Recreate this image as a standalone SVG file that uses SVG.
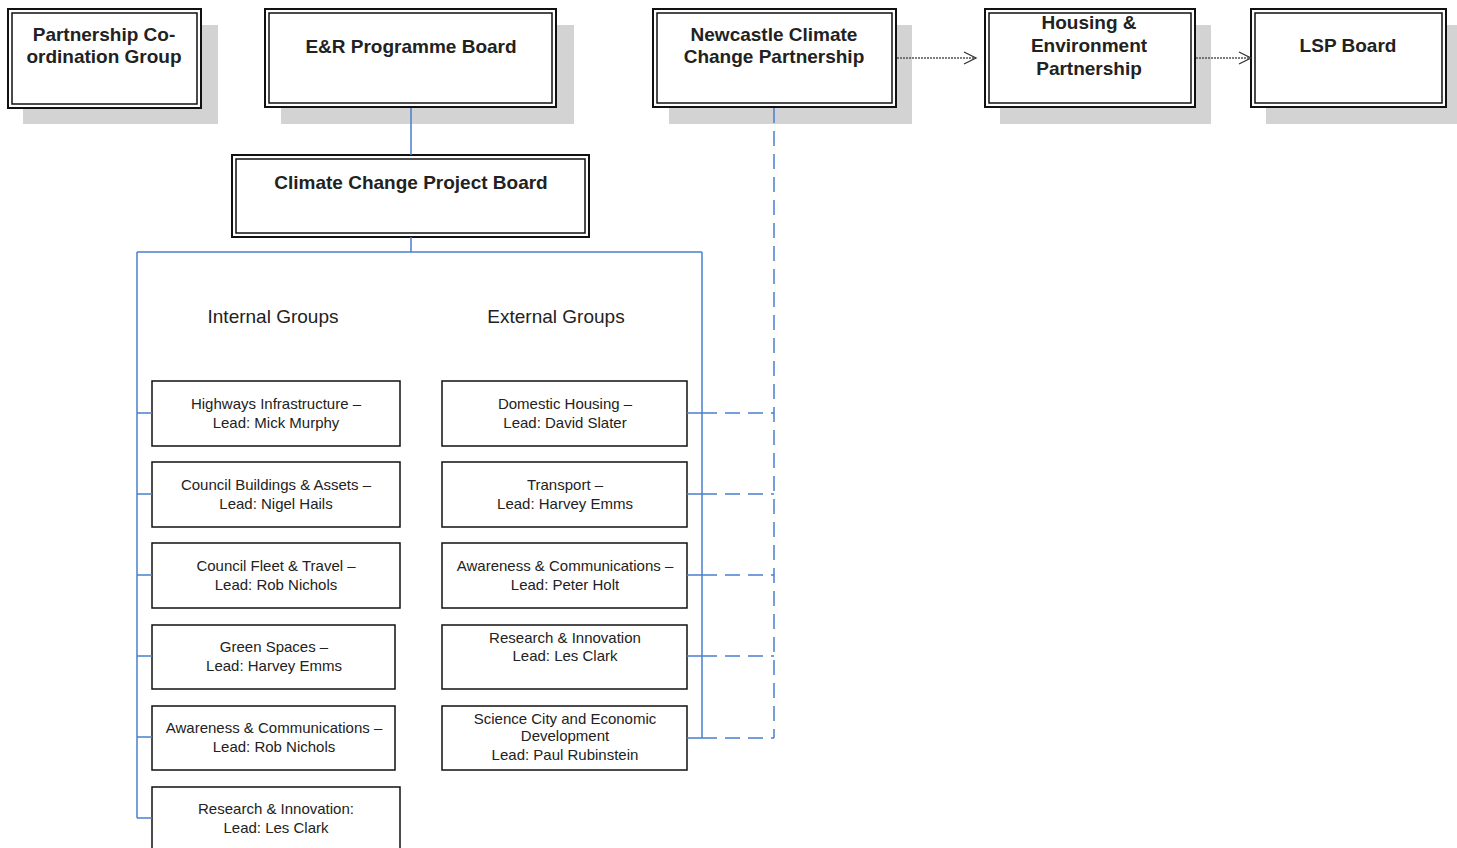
<svg xmlns="http://www.w3.org/2000/svg" width="1457" height="848" viewBox="0 0 1457 848">
<defs>
<marker id="arr" markerWidth="16" markerHeight="14" refX="14" refY="7" orient="auto" markerUnits="userSpaceOnUse">
<path d="M2,1 L14,7 L2,13" fill="none" stroke="#333" stroke-width="1.3"/>
</marker>
</defs>
<style>
.shadow{fill:#d3d3d3}
.outer{fill:#fff;stroke:#111;stroke-width:2}
.inner{fill:none;stroke:#111;stroke-width:1.5}
.box{fill:#fff;stroke:#111;stroke-width:1.5}
.title{font-family:"Liberation Sans",Arial,sans-serif;font-weight:bold;font-size:19px;fill:#222;text-anchor:middle}
.lbl{font-family:"Liberation Sans",Arial,sans-serif;font-size:15px;fill:#222;text-anchor:middle}
.hdr{font-family:"Liberation Sans",Arial,sans-serif;font-size:19px;fill:#222;text-anchor:middle}
.blue{fill:none;stroke:#4a7fd0;stroke-width:1.5}
.dash{fill:none;stroke:#4a7fd0;stroke-width:1.5;stroke-dasharray:15 8}
.arrow{fill:none;stroke:#555;stroke-width:1.5;stroke-dasharray:2 1;marker-end:url(#arr)}
</style>
<rect width="1457" height="848" fill="#fff"/>

<g id="pcg">
<rect class="shadow" x="23" y="25" width="195" height="99"/>
<rect class="outer" x="8" y="9" width="193" height="99"/>
<rect class="inner" x="12" y="13" width="185" height="91"/>
<text class="title" x="104" y="41">Partnership Co-</text>
<text class="title" x="104" y="63">ordination Group</text>
</g>

<g id="erpb">
<rect class="shadow" x="281" y="25" width="293" height="99"/>
<rect class="outer" x="265" y="9" width="291" height="98"/>
<rect class="inner" x="269" y="13" width="283" height="90"/>
<text class="title" x="411" y="53">E&amp;R Programme Board</text>
</g>

<g id="nccp">
<rect class="shadow" x="669" y="25" width="243" height="99"/>
<rect class="outer" x="653" y="9" width="243" height="98"/>
<rect class="inner" x="657" y="13" width="235" height="90"/>
<text class="title" x="774" y="41">Newcastle Climate</text>
<text class="title" x="774" y="63">Change Partnership</text>
</g>

<g id="hep">
<rect class="shadow" x="1000" y="25" width="211" height="99"/>
<rect class="outer" x="985" y="9" width="210" height="98"/>
<rect class="inner" x="989" y="13" width="202" height="90"/>
<text class="title" x="1089" y="29">Housing &amp;</text>
<text class="title" x="1089" y="52">Environment</text>
<text class="title" x="1089" y="75">Partnership</text>
</g>

<g id="lsp">
<rect class="shadow" x="1266" y="25" width="191" height="99"/>
<rect class="outer" x="1251" y="9" width="195" height="98"/>
<rect class="inner" x="1255" y="13" width="187" height="90"/>
<text class="title" x="1348" y="52">LSP Board</text>
</g>

<g id="ccpb">
<rect class="outer" x="232" y="155" width="357" height="82"/>
<rect class="inner" x="236" y="159" width="349" height="74"/>
<text class="title" x="411" y="189">Climate Change Project Board</text>
</g>

<g id="hdr-internal"><text class="hdr" x="273" y="323">Internal Groups</text></g>
<g id="hdr-external"><text class="hdr" x="556" y="323">External Groups</text></g>

<g id="int1">
<rect class="box" x="152" y="381" width="248" height="65"/>
<text class="lbl" x="276" y="409">Highways Infrastructure –</text>
<text class="lbl" x="276" y="428">Lead: Mick Murphy</text>
</g>
<g id="int2">
<rect class="box" x="152" y="462" width="248" height="65"/>
<text class="lbl" x="276" y="490">Council Buildings &amp; Assets –</text>
<text class="lbl" x="276" y="509">Lead: Nigel Hails</text>
</g>
<g id="int3">
<rect class="box" x="152" y="543" width="248" height="65"/>
<text class="lbl" x="276" y="571">Council Fleet &amp; Travel –</text>
<text class="lbl" x="276" y="590">Lead: Rob Nichols</text>
</g>
<g id="int4">
<rect class="box" x="152" y="625" width="243" height="64"/>
<text class="lbl" x="274" y="652">Green Spaces –</text>
<text class="lbl" x="274" y="671">Lead: Harvey Emms</text>
</g>
<g id="int5">
<rect class="box" x="152" y="706" width="243" height="64"/>
<text class="lbl" x="274" y="733">Awareness &amp; Communications –</text>
<text class="lbl" x="274" y="752">Lead: Rob Nichols</text>
</g>
<g id="int6">
<rect class="box" x="152" y="787" width="248" height="70"/>
<text class="lbl" x="276" y="814">Research &amp; Innovation:</text>
<text class="lbl" x="276" y="833">Lead: Les Clark</text>
</g>

<g id="ext1">
<rect class="box" x="442" y="381" width="245" height="65"/>
<text class="lbl" x="565" y="409">Domestic Housing –</text>
<text class="lbl" x="565" y="428">Lead: David Slater</text>
</g>
<g id="ext2">
<rect class="box" x="442" y="462" width="245" height="65"/>
<text class="lbl" x="565" y="490">Transport –</text>
<text class="lbl" x="565" y="509">Lead: Harvey Emms</text>
</g>
<g id="ext3">
<rect class="box" x="442" y="543" width="245" height="65"/>
<text class="lbl" x="565" y="571">Awareness &amp; Communications –</text>
<text class="lbl" x="565" y="590">Lead: Peter Holt</text>
</g>
<g id="ext4">
<rect class="box" x="442" y="625" width="245" height="64"/>
<text class="lbl" x="565" y="643">Research &amp; Innovation</text>
<text class="lbl" x="565" y="661">Lead: Les Clark</text>
</g>
<g id="ext5">
<rect class="box" x="442" y="706" width="245" height="64"/>
<text class="lbl" x="565" y="724">Science City and Economic</text>
<text class="lbl" x="565" y="741">Development</text>
<text class="lbl" x="565" y="760">Lead: Paul Rubinstein</text>
</g>

<g id="connectors">
<path class="blue" d="M411,108 V155 M411,237 V252 M137,252 H702 M137,252 V818 M702,252 V738"/>
<path class="blue" d="M137,413 H152 M137,494 H152 M137,575 H152 M137,656 H152 M137,737 H152 M137,818 H152"/>
<path class="blue" d="M687,413 H702 M687,494 H702 M687,575 H702 M687,656 H702 M687,738 H702"/>
<path class="dash" d="M774,108 V738"/>
<path class="dash" d="M702,413 H774 M702,494 H774 M702,575 H774 M702,656 H774 M702,738 H774"/>
<path class="arrow" d="M897,58 H976"/>
<path class="arrow" d="M1196,58 H1251"/>
</g>
</svg>
